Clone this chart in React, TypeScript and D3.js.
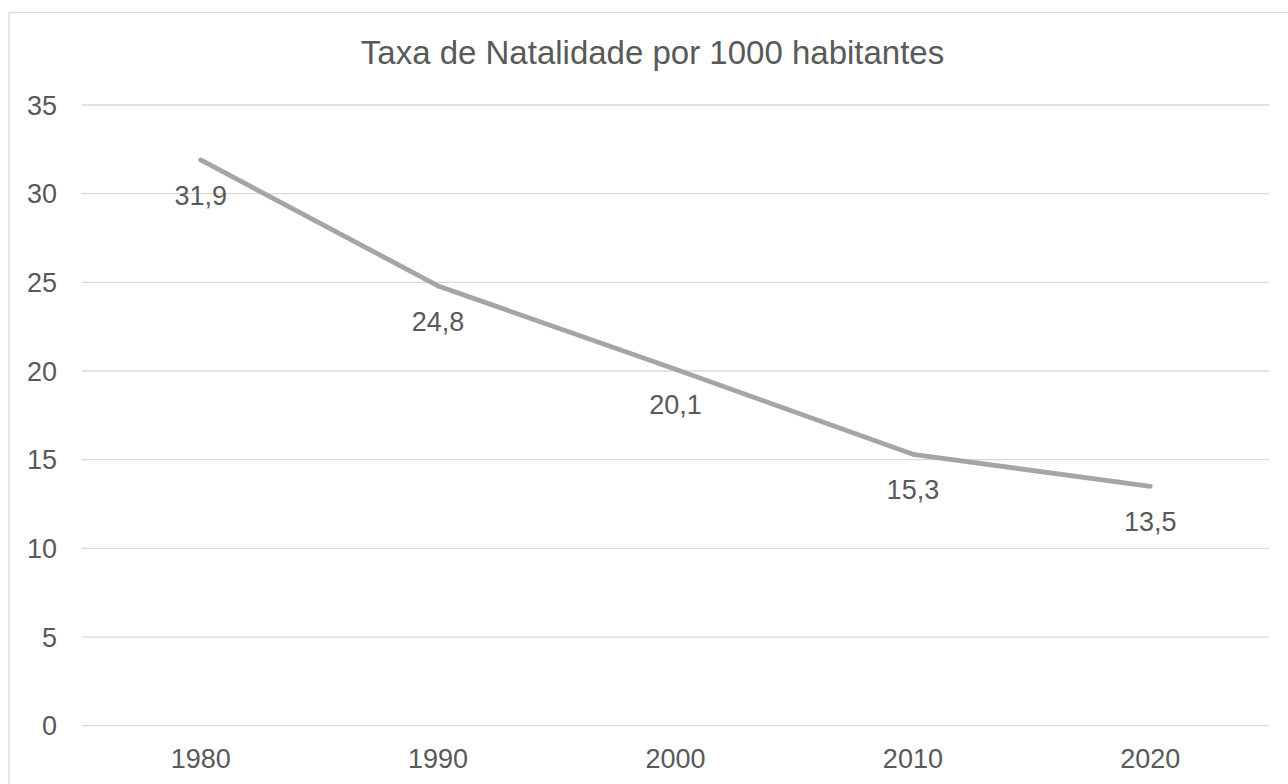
import React from "react";
import * as d3 from "d3";

const years = ["1980", "1990", "2000", "2010", "2020"];
const rates = [31.9, 24.8, 20.1, 15.3, 13.5];
const yTicks = [0, 5, 10, 15, 20, 25, 30, 35];
const title = "Taxa de Natalidade por 1000 habitantes";

const W = 1288;
const H = 784;
const FONT = "'Liberation Sans', Arial, sans-serif";
const TEXT = "#595959";
const GRID = "#d9d9d9";
const LINE = "#a5a5a5";

export default function App() {
  const x = d3.scalePoint<string>().domain(years).range([82, 1269]).padding(0.5);
  const y = d3.scaleLinear().domain([0, 35]).range([725.7, 105]);
  const line = d3
    .line<number>()
    .x((_, i) => x(years[i]) as number)
    .y((d) => y(d));
  const fmt = (v: number) => v.toFixed(1).replace(".", ",");

  return (
    <svg
      width={W}
      height={H}
      style={{ position: "absolute", left: 0, top: 0, display: "block", background: "#fff" }}
      fontFamily={FONT}
    >
      <rect x={0} y={0} width={W} height={H} fill="#fff" />
      <rect x={9} y={12.5} width={1400} height={900} fill="#fff" stroke={GRID} strokeWidth={1.3} />
      <text x={652.5} y={64.3} textAnchor="middle" fontSize={33} fill={TEXT}>
        {title}
      </text>
      {yTicks.map((t) => (
        <g key={t}>
          <line x1={82} x2={1269} y1={y(t)} y2={y(t)} stroke={GRID} strokeWidth={1.3} />
          <text x={57} y={y(t) + 9.6} textAnchor="end" fontSize={27} fill={TEXT}>
            {t}
          </text>
        </g>
      ))}
      {years.map((yr) => (
        <text key={yr} x={x(yr) as number} y={768} textAnchor="middle" fontSize={27} fill={TEXT}>
          {yr}
        </text>
      ))}
      <path
        d={line(rates) || ""}
        fill="none"
        stroke={LINE}
        strokeWidth={4.8}
        strokeLinecap="round"
        strokeLinejoin="round"
      />
      {rates.map((v, i) => (
        <text
          key={i}
          x={x(years[i]) as number}
          y={y(v) + 45}
          textAnchor="middle"
          fontSize={27}
          fill={TEXT}
        >
          {fmt(v)}
        </text>
      ))}
    </svg>
  );
}
